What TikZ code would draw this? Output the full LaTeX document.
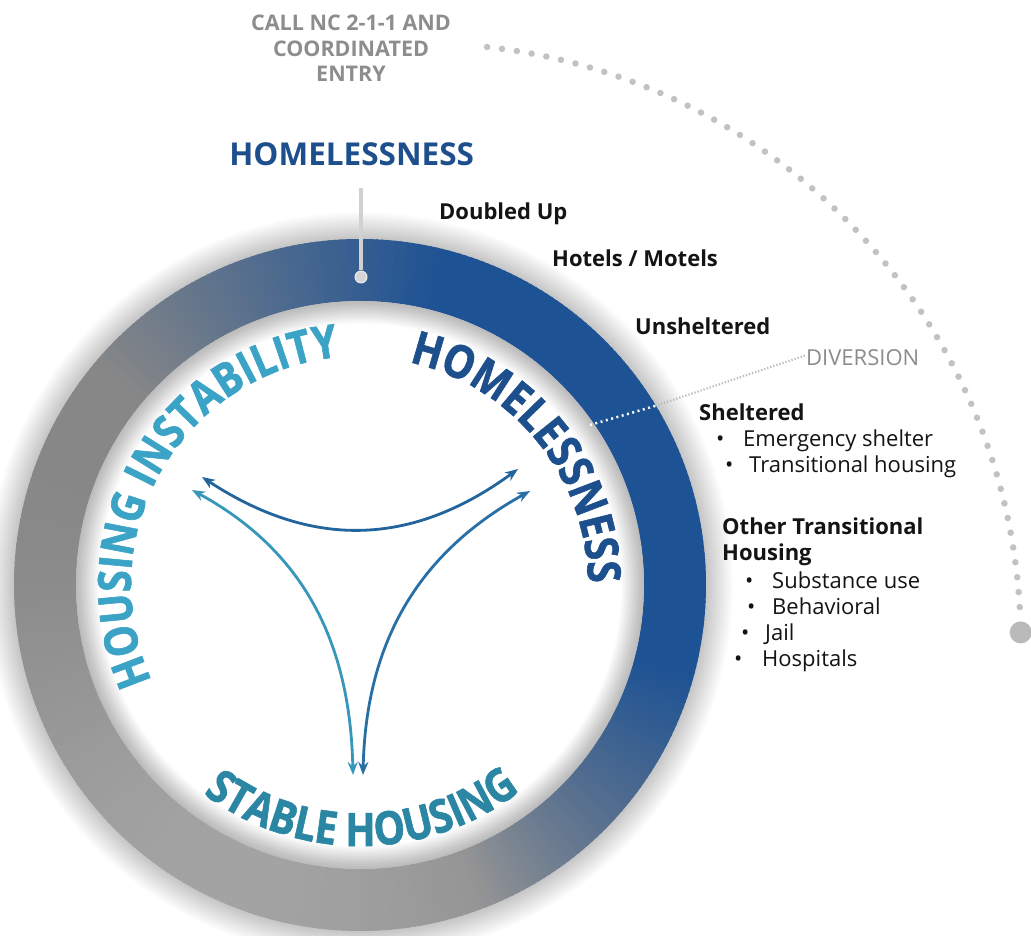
\documentclass[tikz,border=0pt]{standalone}
\usepackage{fontspec}
\setmainfont{Open Sans}
\newfontfamily\curvefont{Open Sans}[FakeStretch=0.86, FakeBold=1.3]
\usetikzlibrary{decorations.text,arrows.meta}
\definecolor{ringblue}{HTML}{1D5294}
\definecolor{headblue}{HTML}{1E4F8D}
\definecolor{hiC}{HTML}{3BA3C5}
\definecolor{shC}{HTML}{2B86A4}
\definecolor{callgray}{HTML}{8D8D8D}
\definecolor{dotgray}{HTML}{C2C2C2}
\definecolor{topC}{HTML}{22649C}
\definecolor{leftC}{HTML}{3797BA}
\definecolor{rightC}{HTML}{286FA6}
\newcommand\myitem[2]{\makebox[#1][l]{\textbullet}#2}
\begin{document}
\begin{tikzpicture}[x=1pt,y=1pt,
  lbl/.style={anchor=base west, inner sep=0pt, font=\fontsize{22}{26}\selectfont, text=black!92},
  hlbl/.style={lbl, font=\bfseries\fontsize{22}{26}\selectfont},
  arr/.style={line width=2.8pt, {Stealth[length=13pt,width=10pt]}-{Stealth[length=13pt,width=10pt]}},
  bigdots/.style={dotgray, line width=6.5pt, dash pattern=on 0pt off 15pt, line cap=round}]
\useasboundingbox (0,0) rectangle (1031,936);
\fill[white] (0,0) rectangle (1031,936);
\coordinate (O) at (360,351);
% soft halo outside the ring
\foreach \k in {1,...,14}{
  \pgfmathsetmacro\rr{346+1.9*\k}
  \fill[black, opacity=0.016] (O) circle (\rr pt);
}
% ring with angular gradient
\begin{scope}[shift={(O)}]
\foreach \a in {0,...,359}{
  \pgfmathsetmacro\ang{\a+1.4}
  \pgfmathsetmacro\fb{\a<75.5 ? 1 : (\a<140.5 ? 1-(\a-75)/65 : (\a<290.5 ? 0 : (\a<345.5 ? (\a-290)/55 : 1)))}
  \pgfmathsetmacro\gl{0.53+0.11*(max(0,cos(\a-245)))^2}
  \pgfmathsetmacro\cR{\fb*0.114+(1-\fb)*\gl}
  \pgfmathsetmacro\cG{\fb*0.322+(1-\fb)*\gl}
  \pgfmathsetmacro\cB{\fb*0.580+(1-\fb)*\gl}
  \definecolor{segc}{rgb}{\cR,\cG,\cB}
  \fill[segc] (\a:346pt) arc[start angle=\a, end angle=\ang, radius=346pt] -- (\ang:284pt) arc[start angle=\ang, end angle=\a, radius=284pt] -- cycle;
}
\end{scope}
% inner white disc with soft rim shadow
\fill[white] (O) circle (284pt);
\foreach \k in {1,...,14}{
  \pgfmathsetmacro\rr{284-1.6*\k}
  \fill[black, opacity=0.018, even odd rule] (O) circle (284pt) (O) circle (\rr pt);
}

% curved texts
\begin{scope}[shift={(O)}]
\path[decorate, decoration={text along path, text align=center,
  text={|\curvefont\bfseries\fontsize{46}{46}\selectfont\color{hiC}|HOUSING INSTABILITY}}]
  (220:229pt) arc[start angle=220, end angle=80, radius=229pt];
\path[decorate, decoration={text along path, text align=center,
  text={|\curvefont\bfseries\fontsize{46}{46}\selectfont\color{headblue}|HOMELESSNESS}}]
  (100:228pt) arc[start angle=100, end angle=-22, radius=228pt];
\path[decorate, decoration={text along path, text align=center,
  text={|\curvefont\bfseries\fontsize{46}{46}\selectfont\color{shC}|STABLE HOUSING}}]
  (215:261pt) arc[start angle=215, end angle=326, radius=261pt];
\end{scope}

% arrows
\coordinate (aTL) at (202,459);
\coordinate (aTR) at (518,467);
\coordinate (aLL) at (192,446);
\coordinate (aBL) at (353,161);
\coordinate (aRR) at (530,445);
\coordinate (aBR) at (363,161);
\draw[arr, topC] (aTL) .. controls (310,388) and (410,388) .. (aTR);
\draw[arr, leftC] (aLL) .. controls (302,386) and (350,296) .. (aBL);
\draw[arr, rightC] (aRR) .. controls (420,384) and (366,296) .. (aBR);

% top heading and connector
\node[anchor=base, inner sep=0pt, text=headblue, font=\bfseries\fontsize{31.5}{34}\selectfont] (homtop) at (351.7,770) {HOMELESSNESS};
\node[circle, fill=black!16, draw=black!8, line width=1pt, minimum size=12pt, inner sep=0pt] (topdot) at (361,659) {};
\draw[black!18, line width=4pt] ([xshift=9.3pt,yshift=-22pt]homtop.base) -- (topdot.north);

% call text and dotted arc
\node[anchor=center, inner sep=0pt, align=center, text=callgray, font=\bfseries\fontsize{21.5}{25.8}\selectfont] (call) at (351,887.6) {CALL NC 2-1-1 AND\\COORDINATED\\ENTRY};
\coordinate (arcS) at (487.1,889);
\node[circle, fill=black!27, minimum size=22pt, inner sep=0pt] (enddot) at (1020.7,303.6) {};
\draw[bigdots] (arcS) arc[start angle=83.7, end angle=2.2, radius=599.5pt];

% diversion
\coordinate (divin) at (590,511);
\coordinate (divout) at (655,530);
\node[lbl, text=black!45] (div) at (806,570) {DIVERSION};
\draw[white, line width=2.5pt, dash pattern=on 2pt off 3.5pt] (divin) -- (divout);
\draw[black!28, line width=2.2pt, dash pattern=on 1.2pt off 2pt] (divout) -- ([yshift=3pt]div.west);

% labels
\node[hlbl] (dbl) at (439,716) {Doubled Up};
\node[hlbl] (hot) at (552,669) {Hotels / Motels};
\node[hlbl] (uns) at (635,601) {Unsheltered};
\node[hlbl] (shl) at (699,515.3) {Sheltered};
\node[lbl] (es) at (716,489.3) {\myitem{27pt}{Emergency shelter}};
\node[lbl] (th) at (725,463) {\myitem{24pt}{Transitional housing}};
\node[hlbl] (oth1) at (722,401) {Other Transitional};
\node[hlbl] (oth2) at (722,375) {Housing};
\node[lbl] (sub) at (745,347.7) {\myitem{27pt}{Substance use}};
\node[lbl] (beh) at (747,321) {\myitem{25pt}{Behavioral}};
\node[lbl] (jail) at (741,295.3) {\myitem{24pt}{Jail}};
\node[lbl] (hosp) at (734,269.3) {\myitem{28pt}{Hospitals}};
\end{tikzpicture}
\end{document}
